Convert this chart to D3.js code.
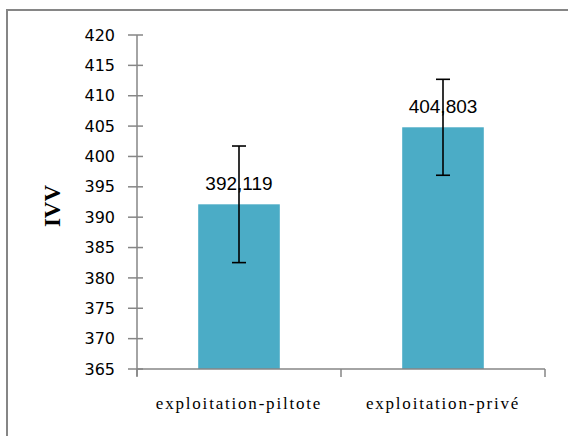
<!DOCTYPE html>
<html><head><meta charset="utf-8">
<script src="https://cdn.jsdelivr.net/npm/d3@7"></script>
<style>body{margin:0;background:#fff;} svg{display:block;}</style>
</head><body>
<svg id="chart" width="568" height="436"></svg>
<script>
const categories = ["exploitation-piltote", "exploitation-privé"];
const values = [392.119, 404.803];
const errors = [9.6, 7.9];
const valueLabels = ["392,119", "404,803"];
const yTicks = [365, 370, 375, 380, 385, 390, 395, 400, 405, 410, 415, 420];
const yTitle = "IVV";

const svg = d3.select("#chart");
const m = {left: 137, right: 545, top: 35, bottom: 369};

// outer frame
svg.append("rect").attr("x", 7).attr("y", 10).attr("width", 620).attr("height", 500)
  .attr("fill", "none").attr("stroke", "#868686").attr("stroke-width", 2);

const x = d3.scaleBand().domain(categories).range([m.left, m.right]).padding(0);
const y = d3.scaleLinear().domain([365, 420]).range([m.bottom, m.top]);
const barW = x.bandwidth() * 0.4;

// bars
svg.selectAll(".bar").data(values).enter().append("rect")
  .attr("x", (d, i) => x(categories[i]) + x.bandwidth() / 2 - barW / 2 + 0)
  .attr("y", d => y(d))
  .attr("width", barW)
  .attr("height", d => y(365) - y(d))
  .attr("fill", "#4BACC6");

// y axis
const yAxis = d3.axisLeft(y).tickValues(yTicks).tickSize(0).tickPadding(22);
const gy = svg.append("g").attr("transform", `translate(${m.left},0)`).call(yAxis);
gy.select(".domain").remove();
gy.selectAll("text").attr("font-family", "DejaVu Sans").attr("font-size", 16).attr("fill", "#000");
svg.append("line").attr("x1", m.left).attr("x2", m.left).attr("y1", m.top).attr("y2", m.bottom + 7)
  .attr("stroke", "#868686").attr("stroke-width", 1.5);
svg.selectAll(".ytick").data(yTicks).enter().append("line")
  .attr("x1", m.left - 9).attr("x2", m.left + 6)
  .attr("y1", d => y(d)).attr("y2", d => y(d))
  .attr("stroke", "#868686").attr("stroke-width", 1.5);

// x axis
svg.append("line").attr("x1", m.left).attr("x2", m.right).attr("y1", m.bottom).attr("y2", m.bottom)
  .attr("stroke", "#868686").attr("stroke-width", 1.5);
const xb = [m.left].concat(categories.map(c => x(c) + x.bandwidth()));
svg.selectAll(".xtick").data(xb).enter().append("line")
  .attr("x1", d => d).attr("x2", d => d).attr("y1", m.bottom).attr("y2", m.bottom + 8)
  .attr("stroke", "#868686").attr("stroke-width", 1.5);
svg.selectAll(".xlab").data(categories).enter().append("text")
  .attr("x", d => x(d) + x.bandwidth() / 2)
  .attr("y", 409)
  .attr("text-anchor", "middle")
  .attr("font-family", "Liberation Serif").attr("font-size", 17)
  .attr("letter-spacing", 1.8)
  .text(d => d);

// error bars
const eb = svg.append("g").attr("stroke", "#000").attr("stroke-width", 1.6);
values.forEach((v, i) => {
  const cx = x(categories[i]) + x.bandwidth() / 2;
  eb.append("line").attr("x1", cx).attr("x2", cx).attr("y1", y(v + errors[i])).attr("y2", y(v - errors[i]));
  eb.append("line").attr("x1", cx - 7).attr("x2", cx + 7).attr("y1", y(v + errors[i])).attr("y2", y(v + errors[i]));
  eb.append("line").attr("x1", cx - 7).attr("x2", cx + 7).attr("y1", y(v - errors[i])).attr("y2", y(v - errors[i]));
});

// value labels
svg.selectAll(".vlab").data(values).enter().append("text")
  .attr("x", (d, i) => x(categories[i]) + x.bandwidth() / 2)
  .attr("y", d => y(d) - 14)
  .attr("text-anchor", "middle")
  .attr("font-family", "Liberation Sans").attr("font-size", 19)
  .text((d, i) => valueLabels[i]);

// y title
svg.append("text")
  .attr("transform", "translate(60,206) rotate(-90)")
  .attr("text-anchor", "middle")
  .attr("font-family", "Liberation Serif").attr("font-weight", "bold").attr("font-size", 23)
  .text(yTitle);
</script>
</body></html>
